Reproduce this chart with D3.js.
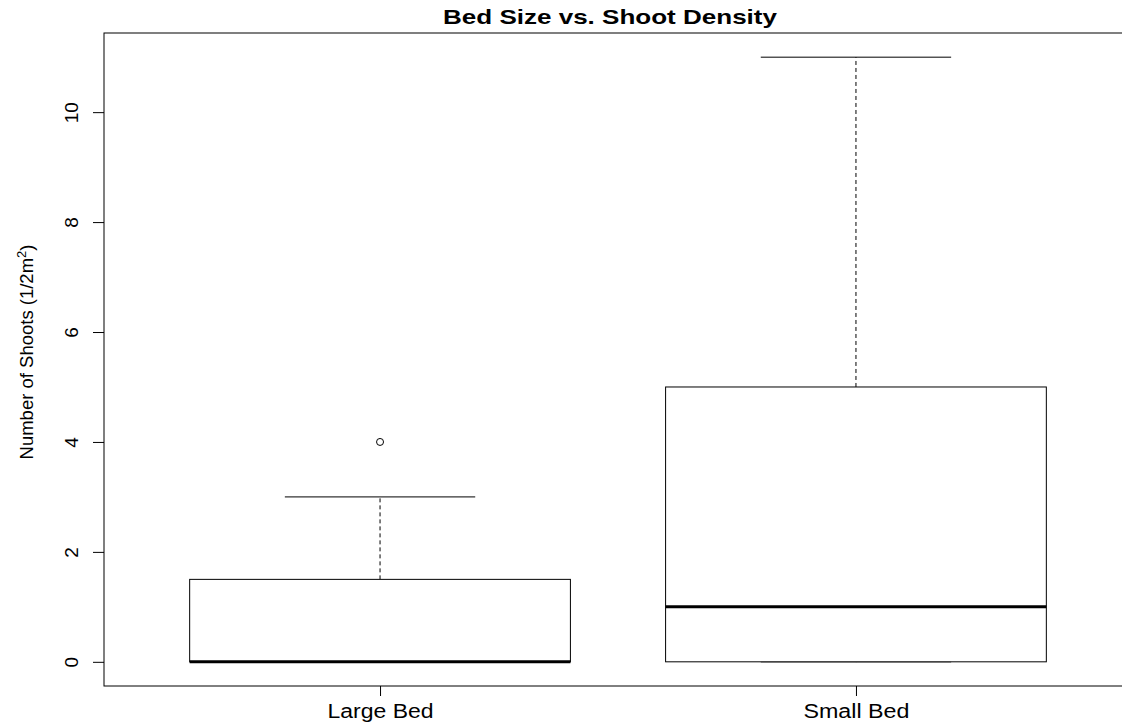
<!DOCTYPE html>
<html>
<head>
<meta charset="utf-8">
<script src="https://cdn.jsdelivr.net/npm/d3@7"></script>
<style>
  body { margin: 0; background: #fff; }
  svg { display: block; font-family: "Liberation Sans", Arial, sans-serif; }
</style>
</head>
<body>
<div id="container"></div>
<script>
// box statistics
var groups = ["Large Bed", "Small Bed"];
var lowWhisker = [0, 0];
var q1 = [0, 0];
var medians = [0, 1];
var q3 = [1.5, 5];
var highWhisker = [3, 11];
var outliers = [[4], []];
var yTicks = [0, 2, 4, 6, 8, 10];

var width = 1122, height = 723;
var svg = d3.select("#container").append("svg")
  .attr("width", width)
  .attr("height", height);

// R style: x range 0.5..2.5 plus 4% padding, y 0..11 plus 4%
var x = d3.scaleLinear().domain([0.42, 2.58]).range([104, 1132]);
var y = d3.scaleLinear().domain([-0.44, 11.44]).range([686, 33]);
var boxHalf = 0.4, capHalf = 0.2;

var data = groups.map(function(g, i) {
  return {name: g, pos: i + 1, lo: lowWhisker[i], q1: q1[i], med: medians[i],
          q3: q3[i], hi: highWhisker[i], out: outliers[i]};
});

var g = svg.selectAll(".box").data(data).enter().append("g").attr("class", "box");

// whiskers
g.append("line")
  .attr("x1", function(d) { return x(d.pos); })
  .attr("x2", function(d) { return x(d.pos); })
  .attr("y1", function(d) { return y(d.q3); })
  .attr("y2", function(d) { return y(d.hi); })
  .attr("stroke", "#000").attr("stroke-dasharray", "4,3");
g.append("line")
  .attr("x1", function(d) { return x(d.pos); })
  .attr("x2", function(d) { return x(d.pos); })
  .attr("y1", function(d) { return y(d.q1); })
  .attr("y2", function(d) { return y(d.lo); })
  .attr("stroke", "#000").attr("stroke-dasharray", "4,3");

// caps
["hi", "lo"].forEach(function(k) {
  g.append("line")
    .attr("x1", function(d) { return x(d.pos - capHalf); })
    .attr("x2", function(d) { return x(d.pos + capHalf); })
    .attr("y1", function(d) { return y(d[k]); })
    .attr("y2", function(d) { return y(d[k]); })
    .attr("stroke", "#000");
});

// boxes
g.append("rect")
  .attr("x", function(d) { return x(d.pos - boxHalf); })
  .attr("width", function(d) { return x(d.pos + boxHalf) - x(d.pos - boxHalf); })
  .attr("y", function(d) { return y(d.q3); })
  .attr("height", function(d) { return y(d.q1) - y(d.q3); })
  .attr("fill", "#fff").attr("stroke", "#000");

// medians
g.append("line")
  .attr("x1", function(d) { return x(d.pos - boxHalf); })
  .attr("x2", function(d) { return x(d.pos + boxHalf); })
  .attr("y1", function(d) { return y(d.med); })
  .attr("y2", function(d) { return y(d.med); })
  .attr("stroke", "#000").attr("stroke-width", 3);

// outliers
g.selectAll(".out")
  .data(function(d) { return d.out.map(function(v) { return {pos: d.pos, v: v}; }); })
  .enter().append("circle")
  .attr("cx", function(d) { return x(d.pos); })
  .attr("cy", function(d) { return y(d.v); })
  .attr("r", 3.5)
  .attr("fill", "none").attr("stroke", "#000");

// frame
svg.append("rect")
  .attr("x", 104).attr("y", 33)
  .attr("width", 1132 - 104).attr("height", 686 - 33)
  .attr("fill", "none").attr("stroke", "#000");

// y axis
var yAxis = svg.append("g").attr("transform", "translate(104,0)")
  .call(d3.axisLeft(y).tickValues(yTicks).tickSize(11).tickSizeOuter(0));
yAxis.select(".domain").remove();
yAxis.selectAll("text").remove();
yAxis.selectAll(".tick").append("text")
  .attr("transform", "translate(-26,0) rotate(-90)")
  .attr("text-anchor", "middle")
  .attr("fill", "#000")
  .attr("font-size", 19)
  .text(function(d) { return d; });

// x axis
var xAxis = svg.append("g").attr("transform", "translate(0,686)")
  .call(d3.axisBottom(x).tickValues([1, 2]).tickSize(10).tickSizeOuter(0)
    .tickFormat(function(d) { return groups[d - 1]; }));
xAxis.select(".domain").remove();
xAxis.selectAll("text")
  .attr("y", 32).attr("dy", 0)
  .attr("fill", "#000").attr("font-size", 20)
  .attr("textLength", 106).attr("lengthAdjust", "spacingAndGlyphs")
  .style("font-family", "'Liberation Sans', Arial, sans-serif");

// title
svg.append("text")
  .attr("x", 610).attr("y", 24)
  .attr("text-anchor", "middle")
  .attr("font-size", 21).attr("font-weight", "bold")
  .attr("textLength", 334).attr("lengthAdjust", "spacingAndGlyphs")
  .text("Bed Size vs. Shoot Density");

// y label
var yl = svg.append("text")
  .attr("transform", "translate(33,352) rotate(-90)")
  .attr("text-anchor", "middle")
  .attr("font-size", 18.5);
yl.append("tspan").text("Number of Shoots (1/2m");
yl.append("tspan").attr("dy", -7).attr("font-size", 13).text("2");
yl.append("tspan").attr("dy", 7).text(")");
</script>
</body>
</html>
